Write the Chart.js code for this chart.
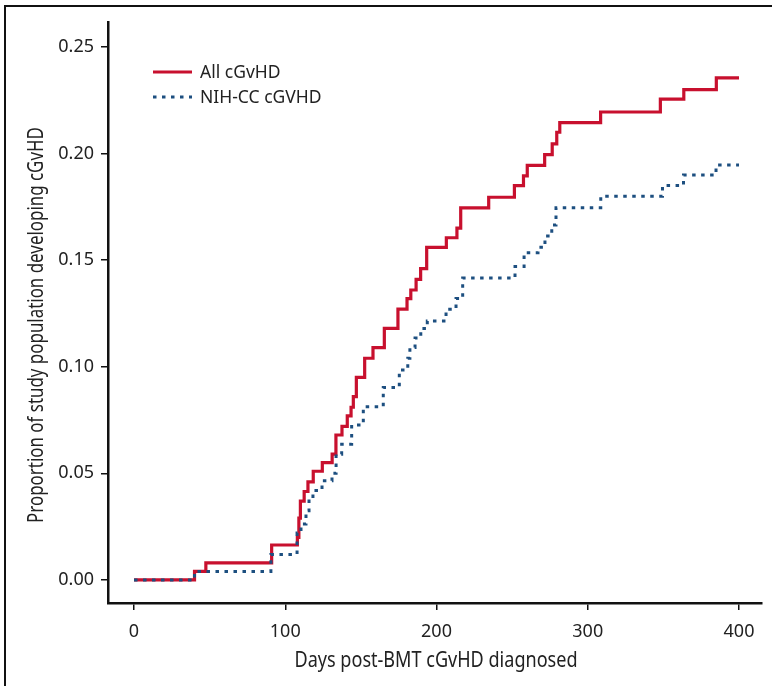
<!DOCTYPE html>
<html>
<head>
<meta charset="utf-8">
<title>cGvHD cumulative incidence</title>
<script src="https://cdn.jsdelivr.net/npm/chart.js@4.4.1/dist/chart.umd.min.js"></script>
<style>
  html, body { margin: 0; padding: 0; background: #fff; }
  #wrap { position: relative; width: 772px; height: 686px; overflow: hidden; }
  #frame { position: absolute; left: 4px; top: 5px; right: -10px; bottom: -10px; border-left: 2px solid #111; border-top: 2px solid #111; }
  canvas { position: absolute; left: 0; top: 0; }
</style>
</head>
<body>
<div id="wrap">
  <div id="frame"></div>
  <canvas id="kmChart" width="772" height="686"></canvas>
</div>
<script>
// step points: day of event, cumulative proportion after it
const allDays = [0, 40, 47.5, 91, 108, 109, 110, 112.5, 115, 118.5, 124.5, 131, 133.5, 137.5, 141, 143.5, 145, 147, 152.5,
  158, 165.5, 174.5, 180.5, 183, 186.5, 189.5, 193.5, 206.5, 213.5, 216, 234.5, 251.5, 257.5, 260, 271.5, 276.5, 279.5,
  281.5, 308.5, 348, 363.5, 385, 400];
const allValues = [0, 0.004, 0.008, 0.0164, 0.020, 0.029, 0.037, 0.0415, 0.046, 0.051, 0.055, 0.059, 0.068, 0.072, 0.077,
  0.081, 0.086, 0.095, 0.104, 0.109, 0.118, 0.127, 0.132, 0.136, 0.141, 0.146, 0.156, 0.1605, 0.165, 0.1745, 0.1795,
  0.185, 0.1895, 0.1945, 0.1995, 0.2045, 0.21, 0.2145, 0.2195, 0.2255, 0.23, 0.2355, 0.2355];

const nihDays = [0, 40, 90.5, 107.8, 110.4, 113.7, 115.7, 118.3, 124.3, 130.9, 133.6, 137.3, 143.9, 151.6, 164.8, 175.4,
  181, 182.4, 185.8, 189.6, 193.9, 206.3, 212.9, 217.3, 251.9, 257.9, 267.1, 271.7, 276.2, 279, 308.6, 349.4, 363.3,
  384.8, 400];
const nihValues = [0, 0.004, 0.012, 0.022, 0.0263, 0.0325, 0.0378, 0.042, 0.0465, 0.050, 0.059, 0.0637, 0.0727, 0.0813,
  0.0903, 0.0985, 0.104, 0.109, 0.1135, 0.118, 0.1215, 0.127, 0.132, 0.1416, 0.147, 0.1535, 0.156, 0.1613, 0.1665,
  0.1746, 0.18, 0.185, 0.1899, 0.1946, 0.1946];

const seriesLabels = ['All cGvHD', 'NIH-CC cGVHD'];
const xTicks = [0, 100, 200, 300, 400];
const yTicks = [0, 0.05, 0.10, 0.15, 0.20, 0.25];
const xTitle = 'Days post-BMT cGvHD diagnosed';
const yTitle = 'Proportion of study population developing cGvHD';

const sans = "'Noto Sans', sans-serif";
const textColor = '#222';

const toPoints = (days, values) => days.map((d, i) => ({x: d, y: values[i]}));

// condensed text: no narrow font installed, so squeeze horizontally
const drawCondensed = (ctx, text, x, y, rot, size, squeeze) => {
    ctx.save();
    ctx.translate(x, y);
    ctx.rotate(rot);
    ctx.scale(squeeze, 1);
    ctx.font = `${size}px ${sans}`;
    ctx.fillStyle = textColor;
    ctx.textAlign = 'center';
    ctx.textBaseline = 'middle';
    ctx.fillText(text, 0, 0);
    ctx.restore();
};

// axis titles and legend drawn on top
const overlayText = {
    id: 'overlayText',
    afterDraw(chart) {
        const ctx = chart.ctx;
        drawCondensed(ctx, yTitle, 37, 325, -Math.PI / 2, 21, 0.805);
        drawCondensed(ctx, xTitle, 436, 661, 0, 21, 0.86);

        seriesLabels.forEach((label, i) => {
            const ds = chart.data.datasets[i];
            const y = 72 + i * 25;
            ctx.save();
            ctx.strokeStyle = ds.borderColor;
            ctx.lineWidth = ds.borderWidth;
            ctx.setLineDash(ds.borderDash || []);
            ctx.beginPath();
            ctx.moveTo(153, y);
            ctx.lineTo(192, y);
            ctx.stroke();
            ctx.setLineDash([]);
            ctx.font = `17.5px ${sans}`;
            ctx.fillStyle = textColor;
            ctx.textBaseline = 'middle';
            ctx.fillText(label, 200, y + 1);
            ctx.restore();
        });
    }
};

const ctx = document.getElementById('kmChart').getContext('2d');
new Chart(ctx, {
    type: 'line',
    data: {
        datasets: [{
            label: seriesLabels[0],
            data: toPoints(allDays, allValues),
            stepped: true,
            borderColor: '#c8102e',
            borderWidth: 3.2,
            pointRadius: 0,
            fill: false,
            order: 1
        }, {
            label: seriesLabels[1],
            data: toPoints(nihDays, nihValues),
            stepped: true,
            borderColor: '#1d4f80',
            borderWidth: 3,
            borderDash: [3.5, 5.5],
            pointRadius: 0,
            fill: false,
            order: 0
        }]
    },
    options: {
        responsive: false,
        animation: false,
        layout: {padding: {top: 22, right: 10, left: 0, bottom: 0}},
        plugins: {
            legend: {display: false},
            tooltip: {enabled: false}
        },
        scales: {
            x: {
                type: 'linear',
                min: -17.2,
                max: 415.2,
                afterBuildTicks: s => { s.ticks = xTicks.map(v => ({value: v})); },
                afterFit: s => { s.height = 83; },
                grid: {drawOnChartArea: false, tickLength: 7, color: '#111', lineWidth: 1.5},
                border: {color: '#111', width: 2.5},
                ticks: {color: textColor, font: {family: sans, size: 18}, padding: 11, maxRotation: 0}
            },
            y: {
                min: -0.0108,
                max: 0.2617,
                afterBuildTicks: s => { s.ticks = yTicks.map(v => ({value: v})); },
                afterFit: s => { s.width = 108; },
                grid: {drawOnChartArea: false, tickLength: 7, color: '#111', lineWidth: 1.5},
                border: {color: '#111', width: 2.5},
                ticks: {color: textColor, font: {family: sans, size: 18}, padding: 7,
                    callback: v => v.toFixed(2)}
            }
        }
    },
    plugins: [overlayText]
});
</script>
</body>
</html>
